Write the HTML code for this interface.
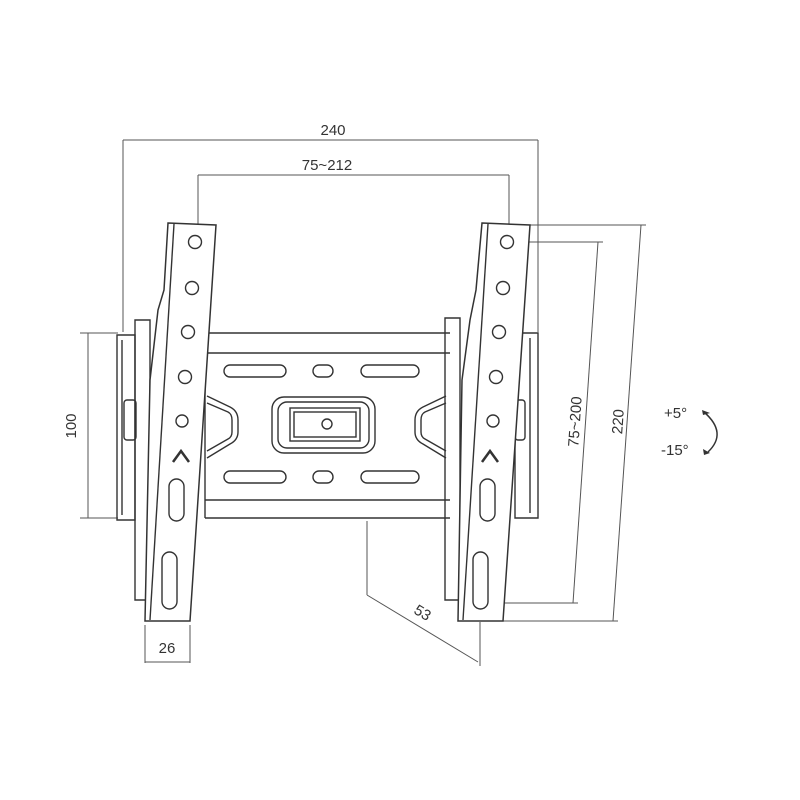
<!DOCTYPE html>
<html><head><style>html,body{margin:0;padding:0;background:#fff}svg{display:block}</style></head>
<body>
<svg width="800" height="800" viewBox="0 0 800 800" xmlns="http://www.w3.org/2000/svg" font-family="Liberation Sans, sans-serif" fill="none" stroke="#333" stroke-width="1.4">
<g stroke="#555" stroke-width="1">
<line x1="123" y1="140" x2="538" y2="140"/><line x1="123" y1="140" x2="123" y2="332"/><line x1="538" y1="140" x2="538" y2="332"/>
<line x1="198" y1="175" x2="509" y2="175"/><line x1="198" y1="175" x2="198" y2="236"/><line x1="509" y1="175" x2="509" y2="236"/>
<line x1="88" y1="333" x2="88" y2="518"/><line x1="80" y1="333" x2="118" y2="333"/><line x1="80" y1="518" x2="118" y2="518"/>
<line x1="145" y1="625" x2="145" y2="663"/><line x1="190" y1="625" x2="190" y2="663"/><line x1="145" y1="662" x2="190" y2="662"/>
<line x1="367" y1="521" x2="367" y2="595"/><line x1="367" y1="595" x2="478" y2="662"/><line x1="480" y1="622" x2="480" y2="666"/>
<line x1="518" y1="242" x2="603" y2="242"/><line x1="598" y1="242" x2="573" y2="603"/><line x1="493" y1="603" x2="578" y2="603"/>
<line x1="530" y1="225" x2="646" y2="225"/><line x1="641" y1="225" x2="613" y2="621"/><line x1="503" y1="621" x2="618" y2="621"/>
</g>
<g fill="#333" stroke="none" font-size="15">
<text x="333" y="135" text-anchor="middle">240</text>
<text x="327" y="170" text-anchor="middle">75~212</text>
<text x="167" y="653" text-anchor="middle">26</text>
<text transform="translate(76,426) rotate(-90)" text-anchor="middle">100</text>
<text transform="translate(420,617) rotate(31)" text-anchor="middle">53</text>
<text transform="translate(580,422) rotate(-86)" text-anchor="middle">75~200</text>
<text transform="translate(623,422) rotate(-86)" text-anchor="middle">220</text>
<text x="664" y="418">+5°</text>
<text x="661" y="455">-15°</text>
</g>
<path d="M704 412 Q728 433 708 452" stroke="#333" stroke-width="1.5"/>
<path d="M702 410 L710 413 L703 415 Z M703 449 L710 453 L704 455 Z" fill="#333" stroke="none"/>
<path d="M117 335 H135 V520 H117 Z M122 340 V515"/>
<path d="M515 333 H538 V518 H515 Z M530 338 V513"/>
<rect x="124" y="400" width="12" height="40" rx="3"/>
<rect x="515" y="400" width="10" height="40" rx="3"/>
<path d="M135 320 H150 V600 H135 Z"/>
<path d="M445 318 H460 V600 H445 Z"/>
<path d="M205 333 H450 M205 353 H450 M205 500 H450 M205 518 H450 M205 333 V518"/>
<g>
<rect x="224" y="365" width="62" height="12" rx="6"/><rect x="313" y="365" width="20" height="12" rx="6"/><rect x="361" y="365" width="58" height="12" rx="6"/>
<rect x="224" y="471" width="62" height="12" rx="6"/><rect x="313" y="471" width="20" height="12" rx="6"/><rect x="361" y="471" width="58" height="12" rx="6"/>
<rect x="272" y="397" width="103" height="56" rx="12"/><rect x="278" y="402" width="91" height="46" rx="9"/>
<rect x="290" y="408" width="70" height="33"/><rect x="294" y="412" width="62" height="25"/>
<circle cx="327" cy="424" r="5"/>
<path d="M207 396 L230 407 Q238 411 238 420 L238 432 Q238 440 230 444 L207 458 M207 403 L228 412 Q232 414 232 420 L232 432 Q232 437 228 439 L207 451"/>
<path d="M446 396 L423 407 Q415 411 415 420 L415 432 Q415 440 423 444 L446 458 M446 403 L425 412 Q421 414 421 420 L421 432 Q421 437 425 439 L446 451"/>
</g>
<path d="M168 223 L216 225 L190 621 L145 621 L150 380 L158 310 L164 290 Z" fill="#fff" stroke-width="1.5"/>
<path d="M174 224 L150 620"/>
<g>
<circle cx="195" cy="242" r="6.5"/><circle cx="192" cy="288" r="6.5"/><circle cx="188" cy="332" r="6.5"/><circle cx="185" cy="377" r="6.5"/><circle cx="182" cy="421" r="6"/>
<path d="M173 462 L181 451 L189 462" stroke-width="2.5"/>
<rect x="169" y="479" width="15" height="42" rx="7.5"/>
<rect x="162" y="552" width="15" height="57" rx="7.5"/>
</g>
<path d="M482 223 L530 225 L503 621 L458 621 L462 380 L470 320 L476 290 Z" fill="#fff" stroke-width="1.5"/>
<path d="M488 224 L463 620"/>
<g>
<circle cx="507" cy="242" r="6.5"/><circle cx="503" cy="288" r="6.5"/><circle cx="499" cy="332" r="6.5"/><circle cx="496" cy="377" r="6.5"/><circle cx="493" cy="421" r="6"/>
<path d="M482 462 L490 451 L498 462" stroke-width="2.5"/>
<rect x="480" y="479" width="15" height="42" rx="7.5"/>
<rect x="473" y="552" width="15" height="57" rx="7.5"/>
</g>
</svg>
</body></html>
